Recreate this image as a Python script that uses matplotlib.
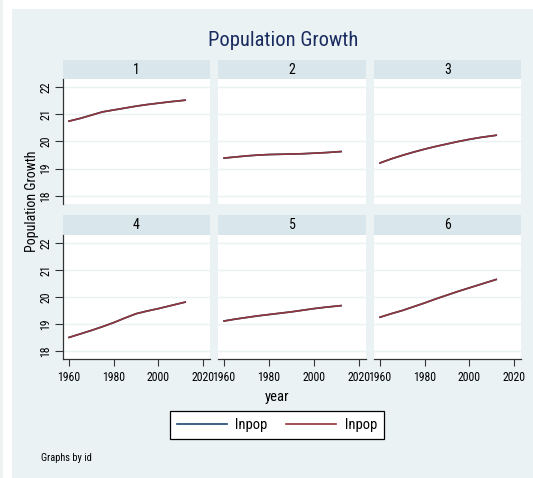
import matplotlib
matplotlib.use("Agg")
import matplotlib.pyplot as plt
from matplotlib.patches import Rectangle
from matplotlib.lines import Line2D

years = [1960, 1965, 1970, 1975, 1980, 1985, 1990, 1995, 2000, 2005, 2012]
ids = ["1", "2", "3", "4", "5", "6"]
lnpop_1 = [20.75, 20.85, 20.97, 21.09, 21.16, 21.23, 21.30, 21.36, 21.41, 21.46, 21.52]
lnpop_2 = [19.39, 19.43, 19.47, 19.50, 19.52, 19.53, 19.54, 19.55, 19.57, 19.59, 19.63]
lnpop_3 = [19.21, 19.36, 19.49, 19.61, 19.72, 19.82, 19.91, 20.00, 20.08, 20.15, 20.23]
lnpop_4 = [18.50, 18.63, 18.76, 18.90, 19.05, 19.22, 19.38, 19.48, 19.57, 19.67, 19.81]
lnpop_5 = [19.11, 19.18, 19.24, 19.30, 19.35, 19.40, 19.45, 19.51, 19.57, 19.62, 19.68]
lnpop_6 = [19.25, 19.38, 19.50, 19.64, 19.78, 19.93, 20.07, 20.21, 20.34, 20.47, 20.65]
series = [lnpop_1, lnpop_2, lnpop_3, lnpop_4, lnpop_5, lnpop_6]
xticks = [1960, 1980, 2000, 2020]
yticks = [18, 19, 20, 21, 22]

BG = "#eaf2f3"
STRIP = "#d9e6eb"
BLUE = "#1a476f"
RED = "#90353b"
W, H = 533, 478

plt.rcParams["font.family"] = ["Roboto Condensed", "Liberation Sans", "DejaVu Sans"]

fig = plt.figure(figsize=(W / 100, H / 100), dpi=100)
fig.patch.set_facecolor("white")
fig.add_artist(Rectangle((12 / W, 0), 1 - 12 / W, (H - 9) / H,
                         transform=fig.transFigure, facecolor=BG, edgecolor="none", zorder=0))
fig.add_artist(Rectangle((0, 0), 3 / W, 1, transform=fig.transFigure,
                         facecolor="#eef2f3", edgecolor="none", zorder=0))


def fbox(x0, y0, x1, y1):
    # pixel box (top-left origin) -> figure rect
    return [x0 / W, 1 - y1 / H, (x1 - x0) / W, (y1 - y0) / H]


col_x = [(63, 210), (218, 366), (374, 521)]
row_y = [(60, 79, 204), (215, 235, 359)]

for i, vals in enumerate(series):
    r, c = divmod(i, 3)
    x0, x1 = col_x[c]
    s0, p0, p1 = row_y[r]

    sax = fig.add_axes(fbox(x0, s0, x1, p0))
    sax.set_facecolor(STRIP)
    sax.set_xticks([])
    sax.set_yticks([])
    for sp in sax.spines.values():
        sp.set_visible(False)
    sax.text(0.5, 0.5, ids[i], ha="center", va="center", fontsize=10, transform=sax.transAxes)

    ax = fig.add_axes(fbox(x0, p0, x1, p1))
    ax.set_facecolor("white")
    ax.plot(years, vals, color=BLUE, lw=1.2, zorder=3)
    ax.plot(years, vals, color=RED, lw=1.2, zorder=4)
    ax.set_xlim(1957.3, 2023.1)
    ax.set_ylim(17.7, 22.3)
    ax.set_xticks(xticks)
    ax.set_yticks(yticks)
    ax.grid(axis="y", color=BG, lw=1.0)
    ax.set_axisbelow(True)
    for sp in ax.spines.values():
        sp.set_visible(False)
    ax.tick_params(direction="out", length=5, width=0.8, color="#333333", labelsize=8.5)
    ax.tick_params(axis="y", length=6, pad=1.5)
    if c == 0:
        ax.spines["left"].set_visible(True)
        ax.spines["left"].set_color("#333333")
        ax.spines["left"].set_linewidth(0.9)
        for lab in ax.get_yticklabels():
            lab.set_rotation(90)
            lab.set_va("center")
    else:
        ax.tick_params(axis="y", left=False, labelleft=False)
    if r == 1:
        ax.spines["bottom"].set_visible(True)
        ax.spines["bottom"].set_color("#333333")
        ax.spines["bottom"].set_linewidth(0.9)
    else:
        ax.tick_params(axis="x", bottom=False, labelbottom=False)

fig.text(283 / W, 1 - 40 / H, "Population Growth", ha="center", va="center",
         fontsize=14.8, color="#1a2b5f")
fig.text(32 / W, 1 - 201 / H, "Population Growth", ha="center", va="center",
         rotation=90, fontsize=10)
fig.text(277 / W, 1 - 397 / H, "year", ha="center", va="center", fontsize=10.5)
fig.text(41 / W, 1 - 458 / H, "Graphs by id", ha="left", va="center", fontsize=7.5)

handles = [Line2D([], [], color=BLUE, lw=1.2), Line2D([], [], color=RED, lw=1.2)]
leg = fig.legend(handles, ["lnpop", "lnpop"], loc="center", ncol=2,
                 bbox_to_anchor=(277 / W, 1 - 425 / H), fontsize=10.5,
                 handlelength=3.4, columnspacing=1.3, handletextpad=0.6,
                 fancybox=False, edgecolor="black", framealpha=1,
                 borderpad=0.45)
leg.get_frame().set_linewidth(0.9)

fig.savefig("out.png", dpi=100, facecolor=fig.get_facecolor())
